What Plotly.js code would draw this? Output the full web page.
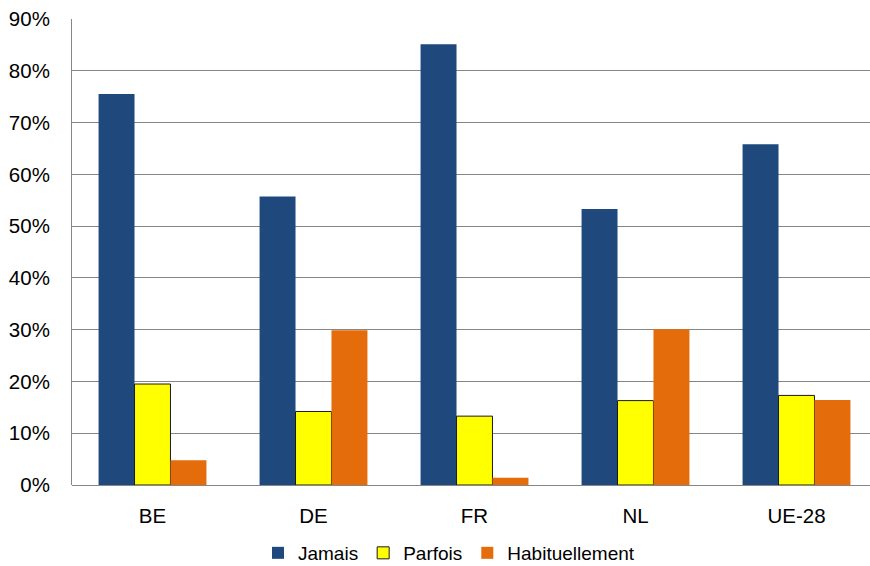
<!DOCTYPE html>
<html>
<head>
<meta charset="utf-8">
<script src="https://cdn.plot.ly/plotly-3.0.1.min.js"></script>
<style>
  html, body { margin: 0; padding: 0; background: #ffffff; }
  #chart { width: 870px; height: 566px; }
</style>
</head>
<body>
<div id="chart"></div>
<script>
// Countries / aggregate shown on the category axis
const pays = ['BE', 'DE', 'FR', 'NL', 'UE-28'];

// Share of respondents (%) per answer
const jamais = [75.5, 55.7, 85.1, 53.3, 65.8];
const parfois = [19.5, 14.2, 13.3, 16.3, 17.3];
const habituellement = [4.8, 29.9, 1.4, 30.1, 16.4];

// Value-axis ticks
const yTicks = [0, 10, 20, 30, 40, 50, 60, 70, 80, 90];
const yTickText = yTicks.map(v => v + '%');

const FONT = 'Liberation Sans, Arial, sans-serif';

const traces = [
  {
    type: 'bar', name: 'Jamais', x: pays, y: jamais,
    marker: { color: '#1F497D', line: { width: 0 } },
    hoverinfo: 'x+y+name'
  },
  {
    type: 'bar', name: 'Parfois', x: pays, y: parfois,
    marker: { color: '#FFFF00', line: { color: '#1a1a1a', width: 1 } },
    hoverinfo: 'x+y+name'
  },
  {
    type: 'bar', name: 'Habituellement', x: pays, y: habituellement,
    marker: { color: '#E46C0A', line: { width: 0 } },
    hoverinfo: 'x+y+name'
  }
];

const layout = {
  width: 870,
  height: 566,
  margin: { l: 72, r: 0, t: 18.5, b: 81, pad: 0, autoexpand: false },
  paper_bgcolor: '#ffffff',
  plot_bgcolor: '#ffffff',
  font: { family: FONT, size: 20.5, color: '#000000' },
  barmode: 'group',
  bargap: 0.33,
  bargroupgap: 0,
  showlegend: true,
  legend: {
    orientation: 'h',
    x: 0.4724, xanchor: 'center',
    yref: 'container',
    y: 0.023, yanchor: 'middle',
    font: { family: FONT, size: 19, color: '#000000' },
    traceorder: 'normal',
    itemclick: false
  },
  xaxis: {
    type: 'category',
    range: [-0.5, 4.4565],
    automargin: false,
    showgrid: false,
    showline: false,
    zeroline: false,
    ticks: '',
    ticklabelstandoff: 16,
    tickfont: { family: FONT, size: 20.5, color: '#000000' }
  },
  yaxis: {
    range: [0, 90],
    automargin: false,
    tickvals: yTicks,
    ticktext: yTickText,
    showgrid: true,
    gridcolor: '#868686',
    gridwidth: 1,
    zeroline: true,
    zerolinecolor: '#868686',
    zerolinewidth: 1,
    showline: true,
    linecolor: '#868686',
    linewidth: 1,
    ticks: '',
    ticklabelstandoff: 17,
    tickfont: { family: FONT, size: 20.5, color: '#000000' }
  }
};

Plotly.newPlot('chart', traces, layout, { staticPlot: true, displayModeBar: false });
</script>
</body>
</html>
